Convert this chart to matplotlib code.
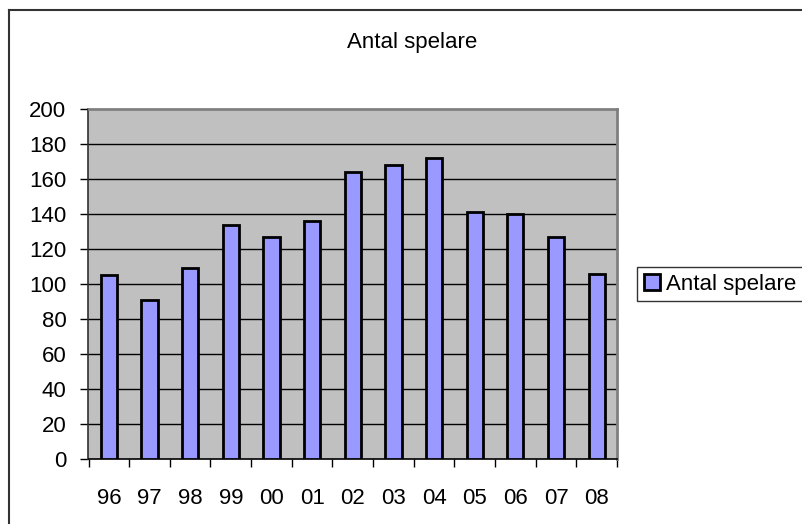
import matplotlib
matplotlib.use("Agg")
import matplotlib.pyplot as plt
from matplotlib.lines import Line2D
from matplotlib.patches import Patch
import numpy as np

plt.rcParams['font.family'] = ['Liberation Sans', 'DejaVu Sans']

years = ["96", "97", "98", "99", "00", "01", "02", "03", "04", "05", "06", "07", "08"]
players = [105, 91, 109, 134, 127, 136, 164, 168, 172, 141, 140, 127, 106]
series_name = "Antal spelare"
title = "Antal spelare"
yticks = [0, 20, 40, 60, 80, 100, 120, 140, 160, 180, 200]

W, H = 803, 524
fig = plt.figure(figsize=(W / 100, H / 100), dpi=100)

def fx(px):
    return px / W

def fy(py):
    return (H - py) / H

left, right, top, bottom = 88.5, 617, 109, 459
ax = fig.add_axes([fx(left), fy(bottom), fx(right) - fx(left), fy(top) - fy(bottom)])
ax.set_facecolor('#C0C0C0')

x = np.arange(len(years))
ax.bar(x, players, width=0.4, color='#9999FF', edgecolor='black', linewidth=2.0,
       zorder=3, label=series_name)

ax.set_xlim(-0.5, len(years) - 0.5)
ax.set_ylim(0, 200)
ax.set_yticks(yticks)
ax.set_yticklabels([str(v) for v in yticks])
for v in yticks[1:-1]:
    ax.axhline(v, color='black', linewidth=1.0, zorder=1)

ax.set_xticks(x)
ax.set_xticklabels(years)
ax.set_xticks(np.arange(-0.5, len(years), 1.0), minor=True)
ax.tick_params(axis='x', which='major', length=0, pad=21, labelsize=16)
ax.tick_params(axis='x', which='minor', length=6, width=1, direction='out', color='black')
ax.tick_params(axis='y', which='major', length=6, width=1, direction='out', pad=10, labelsize=16)

ax.spines['top'].set_color('#808080')
ax.spines['top'].set_linewidth(2)
ax.spines['right'].set_color('#808080')
ax.spines['right'].set_linewidth(2)
ax.spines['left'].set_color('#303030')
ax.spines['left'].set_linewidth(1.2)
ax.spines['bottom'].set_color('black')
ax.spines['bottom'].set_linewidth(1.2)

fig.text(fx(412), fy(48), title, ha='center', va='baseline', fontsize=16)

handle = Patch(facecolor='#9999FF', edgecolor='black', linewidth=2.0)
leg = fig.legend([handle], [series_name], loc='upper left',
                 bbox_to_anchor=(fx(637), fy(267)), borderaxespad=0,
                 fontsize=16, frameon=True, fancybox=False, edgecolor='black',
                 handlelength=0.75, handleheight=0.75, handletextpad=0.25,
                 borderpad=0.3)
leg.get_frame().set_linewidth(1.0)

# outer chart frame (only top and left edges visible)
fig.add_artist(Line2D([fx(8.5), fx(8.5)], [fy(9.5), fy(H + 5)], color='#333333', linewidth=1.5,
                      transform=fig.transFigure))
fig.add_artist(Line2D([fx(8.5), fx(W + 5)], [fy(9.5), fy(9.5)], color='#333333', linewidth=1.5,
                      transform=fig.transFigure))

fig.savefig('out.png', dpi=100)
